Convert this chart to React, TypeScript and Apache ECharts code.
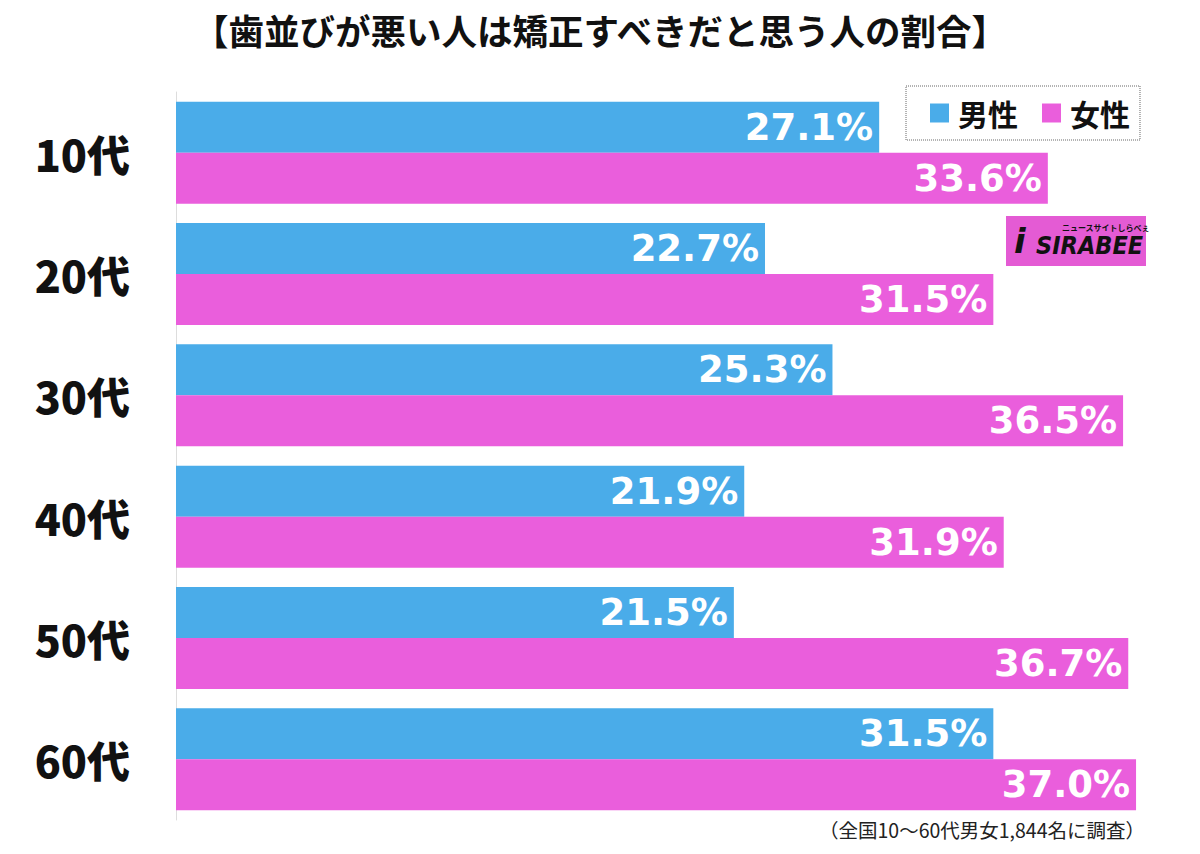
import React, { useEffect, useRef } from "react";
import * as echarts from "echarts";

const categories = ["10代", "20代", "30代", "40代", "50代", "60代"];
const maleValues = [27.1, 22.7, 25.3, 21.9, 21.5, 31.5];
const femaleValues = [33.6, 31.5, 36.5, 31.9, 36.7, 37.0];
const seriesNames = ["男性", "女性"];
const title = "【歯並びが悪い人は矯正すべきだと思う人の割合】";
const footnote = "（全国10〜60代男女1,844名に調査）";

const BLUE = "#4AACE9";
const PINK = "#EA5EDC";
const FONT = "'Noto Sans CJK JP', 'Noto Sans', sans-serif";

export default function App() {
  const ref = useRef<HTMLDivElement>(null);
  useEffect(() => {
    if (!ref.current) return;
    const chart = echarts.init(ref.current, undefined, { renderer: "svg" });
    const label = {
      show: true,
      position: "insideRight",
      distance: 6,
      color: "#fff",
      fontSize: 37,
      fontWeight: "bold",
      fontFamily: "'DejaVu Sans', sans-serif",
      formatter: (p: any) => p.value.toFixed(1) + "%",
    };
    chart.setOption({
      animation: false,
      backgroundColor: "#fff",
      textStyle: { fontFamily: FONT },
      title: {
        text: title,
        left: "center",
        top: 7,
        textStyle: { fontSize: 35.5, fontWeight: "bold", color: "#111", fontFamily: FONT },
      },
      legend: {
        data: seriesNames,
        left: 906,
        top: 86,
        icon: "rect",
        itemWidth: 19,
        itemHeight: 19,
        itemGap: 24,
        padding: [12, 10, 12, 24],
        borderColor: "#666",
        borderWidth: 1,
        borderType: "dotted",
        backgroundColor: "#fff",
        textStyle: { fontSize: 30, fontWeight: "bold", color: "#111", fontFamily: FONT, padding: [0, 0, 0, 4] },
      },
      grid: { left: 176, top: 92, height: 728, width: 986 },
      xAxis: {
        type: "value",
        min: 0,
        max: 38,
        show: false,
      },
      yAxis: {
        type: "category",
        data: categories,
        inverse: true,
        axisLine: { show: true, lineStyle: { color: "#ddd", width: 1 } },
        axisTick: { show: false },
        axisLabel: {
          fontSize: 43,
          fontWeight: 900,
          color: "#111",
          fontFamily: FONT,
          margin: 46,
        },
      },
      series: [
        {
          name: seriesNames[0],
          type: "bar",
          data: maleValues,
          barWidth: 51,
          barGap: "0%",
          itemStyle: { color: BLUE },
          label,
        },
        {
          name: seriesNames[1],
          type: "bar",
          data: femaleValues,
          barWidth: 51,
          barGap: "0%",
          itemStyle: { color: PINK },
          label,
        },
      ],
      graphic: [
        {
          type: "group",
          left: 1006,
          top: 216,
          children: [
            { type: "rect", shape: { x: 0, y: 0, width: 140, height: 50 }, style: { fill: "#E45BD4" } },
            {
              type: "text",
              x: 56,
              y: 7,
              style: { text: "ニュースサイトしらべぇ", fontSize: 8, fontWeight: "bold", fill: "#111", fontFamily: FONT },
            },
            {
              type: "text",
              x: 8,
              y: 8,
              style: { text: "i", fontSize: 34, fontWeight: "bold", fontStyle: "italic", fill: "#111", fontFamily: "DejaVu Sans" },
            },
            {
              type: "text",
              x: 30,
              y: 17,
              style: { text: "SIRABEE", fontSize: 25, fontWeight: "bold", fontStyle: "italic", fill: "#111", fontFamily: "DejaVu Sans Condensed, DejaVu Sans" },
            },
          ],
        },
        {
          type: "text",
          right: 55,
          top: 820,
          style: { text: footnote, fontSize: 19.5, fill: "#222", fontFamily: FONT },
        },
      ],
    });
    return () => chart.dispose();
  }, []);
  return <div ref={ref} style={{ width: 1200, height: 854, position: "absolute", left: 0, top: 0 }} />;
}
